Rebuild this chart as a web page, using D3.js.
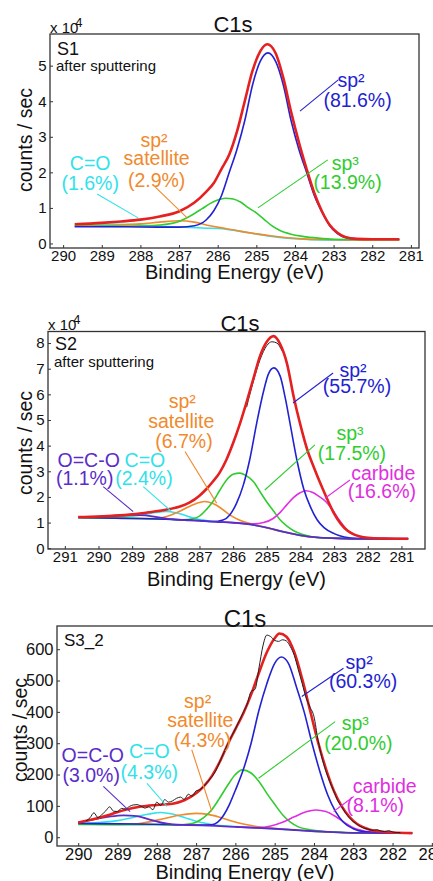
<!DOCTYPE html>
<html>
<head>
<meta charset="utf-8">
<script src="https://cdn.jsdelivr.net/npm/d3@7"></script>
<style>
  body { margin: 0; background: #fff; }
  svg text { font-family: "Liberation Sans", Arial, Helvetica, sans-serif; }
</style>
</head>
<body>
<svg id="chart" width="433" height="881"></svg>
<script>
// ---- S1 (counts x 1e4), pairs are [binding energy, counts] ----
const s1XTicks = [290, 289, 288, 287, 286, 285, 284, 283, 282, 281]
const s1YTicks = [0, 1, 2, 3, 4, 5]
const s1CO = [[289.7,0.52],[289.2,0.53],[288.7,0.54],[288.2,0.53],[287.7,0.5],[287.2,0.47],[286.7,0.45],[286.2,0.43],[285.7,0.39],[285.3,0.32],[285.0,0.27],[284.6,0.2],[284.2,0.15],[283.8,0.12],[283.3,0.1],[282.5,0.09],[281.3,0.09]]
const s1Sat = [[289.7,0.49],[289.0,0.5],[288.5,0.52],[288.0,0.55],[287.5,0.6],[287.0,0.64],[286.6,0.6],[286.2,0.5],[285.8,0.42],[285.4,0.34],[285.0,0.27],[284.6,0.21],[284.2,0.16],[283.8,0.13],[283.3,0.11],[282.5,0.1],[281.3,0.1]]
const s1Sp3 = [[289.7,0.49],[288.5,0.48],[288.0,0.49],[287.5,0.52],[287.0,0.62],[286.7,0.78],[286.4,0.98],[286.2,1.12],[286.0,1.22],[285.8,1.27],[285.6,1.25],[285.4,1.16],[285.2,1.0],[285.0,0.86],[284.8,0.68],[284.6,0.5],[284.4,0.37],[284.1,0.26],[283.8,0.2],[283.4,0.15],[283.0,0.12],[282.3,0.11],[281.3,0.11]]
const s1Sp2 = [[289.7,0.47],[288.5,0.47],[287.5,0.46],[287.0,0.46],[286.6,0.5],[286.3,0.66],[286.1,0.92],[285.9,1.35],[285.7,2.0],[285.5,2.65],[285.3,3.45],[285.1,4.45],[284.9,5.12],[284.7,5.36],[284.5,5.12],[284.3,4.45],[284.1,3.45],[283.9,2.65],[283.7,2.0],[283.5,1.35],[283.3,0.88],[283.1,0.5],[282.9,0.28],[282.7,0.17],[282.4,0.13],[282.0,0.12],[281.3,0.12]]
const s1Fit = [[289.7,0.54],[289.0,0.58],[288.5,0.62],[288.0,0.67],[287.5,0.76],[287.0,0.9],[286.6,1.15],[286.3,1.45],[286.1,1.7],[285.9,2.1],[285.7,2.5],[285.5,3.15],[285.3,4.0],[285.1,4.85],[284.9,5.4],[284.72,5.6],[284.5,5.35],[284.3,4.65],[284.1,3.7],[283.9,2.85],[283.7,2.1],[283.5,1.42],[283.3,0.9],[283.1,0.52],[282.9,0.3],[282.7,0.18],[282.4,0.13],[282.0,0.12],[281.3,0.12]]

// ---- S2 (counts x 1e4) ----
const s2XTicks = [291, 290, 289, 288, 287, 286, 285, 284, 283, 282, 281]
const s2YTicks = [0, 1, 2, 3, 4, 5, 6, 7, 8]
const s2OCO = [[290.6,1.21],[290.0,1.23],[289.5,1.27],[289.0,1.3],[288.6,1.28],[288.2,1.2],[287.8,1.13],[287.3,1.09],[287.0,1.07],[286.5,1.03],[286.0,1.0],[285.5,0.93],[285.0,0.8],[284.5,0.64],[284.0,0.5],[283.5,0.42],[283.0,0.39],[282.0,0.37],[280.8,0.37]]
const s2CO = [[290.6,1.2],[290.0,1.2],[289.5,1.21],[289.0,1.25],[288.6,1.32],[288.3,1.39],[288.0,1.43],[287.7,1.38],[287.4,1.27],[287.1,1.15],[286.8,1.08],[286.5,1.03],[286.0,1.0],[285.5,0.93],[285.0,0.8],[284.5,0.64],[284.0,0.5],[283.5,0.42],[283.0,0.39],[282.0,0.37],[280.8,0.37]]
const s2Sat = [[290.6,1.19],[289.5,1.17],[289.0,1.16],[288.5,1.16],[288.2,1.18],[287.9,1.27],[287.6,1.43],[287.3,1.63],[287.0,1.78],[286.85,1.82],[286.6,1.74],[286.35,1.55],[286.1,1.3],[285.85,1.12],[285.6,1.0],[285.3,0.9],[285.0,0.8],[284.5,0.64],[284.0,0.5],[283.5,0.42],[283.0,0.39],[282.0,0.37],[280.8,0.37]]
const s2Sp3 = [[290.6,1.19],[289.0,1.16],[288.0,1.13],[287.5,1.11],[287.2,1.15],[287.0,1.25],[286.8,1.5],[286.6,1.82],[286.4,2.25],[286.2,2.65],[286.0,2.88],[285.8,2.93],[285.6,2.82],[285.4,2.6],[285.2,2.2],[285.0,1.8],[284.8,1.45],[284.6,1.1],[284.4,0.86],[284.2,0.68],[284.0,0.56],[283.7,0.46],[283.4,0.41],[283.0,0.39],[282.0,0.37],[280.8,0.37]]
const s2Sp2 = [[290.6,1.2],[288.0,1.13],[287.0,1.08],[286.6,1.04],[286.3,1.1],[286.1,1.3],[285.9,1.75],[285.7,2.45],[285.5,3.5],[285.3,4.88],[285.1,6.1],[284.95,6.8],[284.79,7.03],[284.6,6.7],[284.45,5.85],[284.3,4.8],[284.1,3.4],[283.9,2.3],[283.7,1.6],[283.5,1.1],[283.3,0.8],[283.0,0.57],[282.7,0.44],[282.3,0.38],[280.8,0.37]]
const s2Carbide = [[286.5,1.03],[286.0,0.99],[285.7,0.96],[285.4,0.95],[285.1,1.0],[284.8,1.17],[284.6,1.4],[284.4,1.7],[284.2,1.98],[284.0,2.17],[283.85,2.24],[283.65,2.18],[283.45,2.02],[283.25,1.82],[283.05,1.5],[282.85,1.1],[282.65,0.76],[282.45,0.56],[282.2,0.45],[281.9,0.4],[281.5,0.38],[280.8,0.37]]
const s2Raw = [[285.6,5.5],[285.4,6.5],[285.2,7.35],[285.0,7.9],[284.85,8.05],[284.7,8.0],[284.55,7.7]]
const s2Fit = [[290.6,1.22],[290.0,1.24],[289.5,1.27],[289.0,1.32],[288.5,1.4],[288.0,1.5],[287.6,1.62],[287.3,1.78],[287.0,2.05],[286.8,2.3],[286.6,2.6],[286.4,2.95],[286.2,3.45],[286.0,4.1],[285.8,4.85],[285.6,5.7],[285.4,6.6],[285.2,7.5],[285.0,8.05],[284.8,8.27],[284.6,7.95],[284.4,7.2],[284.2,5.9],[284.0,4.8],[283.8,3.85],[283.6,3.15],[283.4,2.5],[283.2,1.9],[283.0,1.35],[282.8,0.95],[282.6,0.68],[282.4,0.53],[282.2,0.45],[281.9,0.4],[281.5,0.38],[280.8,0.37]]

// ---- S3_2 (counts) ----
const s3XTicks = [290, 289, 288, 287, 286, 285, 284, 283, 282, 281]
const s3YTicks = [0, 100, 200, 300, 400, 500, 600]
const s3OCO = [[290,47],[289.6,57],[289.2,66],[288.85,70],[288.5,67],[288.2,57],[287.9,47],[287.6,41],[287.2,39],[286.5,36],[286.0,33],[285.5,30],[285.0,27],[284.5,23],[284.0,19],[283.5,16],[283.0,14],[282.0,13],[281.5,13]]
const s3CO = [[290,45],[289.5,47],[289.0,53],[288.6,63],[288.2,74],[287.9,79],[287.6,74],[287.3,63],[287.0,51],[286.7,43],[286.4,37],[286.0,34],[285.5,30],[285.0,27],[284.5,23],[284.0,19],[283.5,16],[283.0,14],[282.0,13],[281.5,13]]
const s3Sat = [[290,42],[289.0,41],[288.5,43],[288.2,49],[287.8,60],[287.4,71],[287.0,76],[286.7,73],[286.4,64],[286.1,52],[285.8,42],[285.5,35],[285.0,28],[284.5,23],[284.0,19],[283.5,16],[283.0,14],[282.0,13],[281.5,13]]
const s3Sp3 = [[290,41],[288.5,40],[288.0,40],[287.5,39],[287.2,42],[287.0,48],[286.8,63],[286.6,88],[286.4,125],[286.2,165],[286.0,200],[285.83,215],[285.6,205],[285.4,178],[285.2,140],[285.0,105],[284.8,72],[284.6,48],[284.4,33],[284.1,24],[283.8,19],[283.4,16],[283.0,14],[282.0,13],[281.5,13]]
const s3Sp2 = [[290,44],[288.5,42],[287.5,40],[287.0,39],[286.6,40],[286.45,48],[286.3,70],[286.15,105],[286.0,150],[285.8,215],[285.6,300],[285.4,405],[285.2,490],[285.0,555],[284.83,575],[284.65,555],[284.45,481],[284.25,400],[284.05,300],[283.85,210],[283.65,135],[283.45,82],[283.25,48],[283.0,27],[282.7,17],[282.3,14],[281.5,13]]
const s3Carbide = [[286.0,33],[285.4,31],[285.1,36],[284.8,48],[284.5,65],[284.2,81],[283.95,87],[283.7,82],[283.45,66],[283.2,45],[283.0,30],[282.7,19],[282.4,15],[282.0,13],[281.5,13]]
const s3Raw = [[289.8,52],[289.7,62],[289.6,78],[289.5,63],[289.4,72],[289.3,84],[289.2,97],[289.1,83],[289.0,82],[288.9,92],[288.8,90],[288.7,98],[288.6,103],[288.5,104],[288.4,99],[288.3,93],[288.2,97],[288.1,88],[288.0,112],[287.9,101],[287.8,120],[287.7,112],[287.6,116],[287.5,124],[287.4,128],[287.3,121],[287.2,137],[287.1,131],[287.0,148],[286.9,152],[286.8,163],[286.7,178],[286.6,193],[286.5,212],[286.4,240],[286.3,268],[286.2,296],[286.1,322],[286.0,346],[285.9,372],[285.8,398],[285.7,425],[285.6,465],[285.5,472],[285.4,540],[285.3,610],[285.2,645],[285.1,640],[285.0,628],[284.9,625],[284.8,630],[284.7,626],[284.6,608],[284.5,580],[284.4,535],[284.3,490],[284.2,445],[284.1,415],[284.0,385],[283.9,312],[283.8,255],[283.7,212],[283.6,178],[283.5,148],[283.4,118],[283.3,98],[283.2,78],[283.1,62],[283.0,50],[282.9,41],[282.8,33],[282.7,28],[282.6,25],[282.5,22],[282.4,24],[282.3,20],[282.2,18],[282.1,21],[282.0,17],[281.9,15],[281.8,15]]
const s3Fit = [[290,47],[289.6,58],[289.2,72],[288.8,88],[288.4,98],[288.0,103],[287.6,107],[287.3,118],[287.0,140],[286.8,163],[286.6,195],[286.4,240],[286.2,295],[286.0,345],[285.8,395],[285.6,455],[285.4,525],[285.2,590],[285.0,635],[284.88,650],[284.7,640],[284.5,590],[284.3,505],[284.1,405],[283.9,305],[283.7,220],[283.5,150],[283.3,100],[283.1,65],[282.9,42],[282.6,25],[282.3,18],[282.0,15],[281.5,13]]

const C = {
  red: '#e42020', blue: '#2222d2', green: '#30cc30', orange: '#f08a2c',
  cyan: '#30e2ea', magenta: '#e02ee0', indigo: '#5a2cc8', black: '#222'
}

const svg = d3.select('#chart')

const panels = [
  {
    id: 1, left: 50, right: 419, top: 34, bottom: 248,
    xDomain: [290.34, 280.79], yDomain: [-0.127, 5.89],
    xTicks: s1XTicks, yTicks: s1YTicks, tickFont: 15,
    title: 'C1s', titleX: 233, titleY: 32, titleFont: 22,
    exp: true, expY: 33,
    sample: 'S1', sampleY: 55, sampleFont: 18, note: 'after sputtering', noteY: 71,
    yLabelX: 25, yLabelY: 140, xLabelY: 279,
    series: [
      { data: s1CO, color: C.cyan, w: 1.6 },
      { data: s1Sat, color: C.orange, w: 1.6 },
      { data: s1Sp3, color: C.green, w: 1.6 },
      { data: s1Sp2, color: C.blue, w: 1.6 },
      { data: s1Fit, color: C.red, w: 2.6 }
    ],
    notes: [
      { color: C.blue, ptr: [[283.87,3.72],[282.88,4.6]], lines: [['sp²',282.55,4.6],['(81.6%)',282.38,4.04]] },
      { color: C.green, ptr: [[284.96,1.0],[283.15,2.35]], lines: [['sp³',282.7,2.26],['(13.9%)',282.64,1.73]] },
      { color: C.orange, ptr: [[287.62,1.59],[286.79,0.72]], lines: [['sp²',287.65,2.91],['satellite',287.58,2.4],['(2.9%)',287.58,1.79]] },
      { color: C.cyan, ptr: [[289.12,1.39],[288.06,0.72]], lines: [['C=O',289.3,2.26],['(1.6%)',289.3,1.7]] }
    ]
  },
  {
    id: 2, left: 48, right: 425, top: 331.5, bottom: 549,
    xDomain: [291.5, 280.3], yDomain: [-0.03, 8.45],
    xTicks: s2XTicks, yTicks: s2YTicks, tickFont: 15,
    title: 'C1s', titleX: 240, titleY: 331, titleFont: 22,
    exp: true, expY: 330,
    sample: 'S2', sampleY: 350, sampleFont: 18, note: 'after sputtering', noteY: 367,
    yLabelX: 25, yLabelY: 443, xLabelY: 586,
    series: [
      { data: s2CO, color: C.cyan, w: 1.6 },
      { data: s2Sat, color: C.orange, w: 1.6 },
      { data: s2Sp3, color: C.green, w: 1.6 },
      { data: s2Carbide, color: C.magenta, w: 1.6 },
      { data: s2Sp2, color: C.blue, w: 1.6 },
      { data: s2OCO, color: C.indigo, w: 1.8 },
      { data: s2Raw, color: C.black, w: 1 },
      { data: s2Fit, color: C.red, w: 2.6 }
    ],
    notes: [
      { color: C.blue, ptr: [[284.22,5.66],[283.03,6.83]], lines: [['sp²',282.44,6.96],['(55.7%)',282.32,6.31]] },
      { color: C.green, ptr: [[285.06,2.27],[283.57,4.03]], lines: [['sp³',282.53,4.49],['(17.5%)',282.47,3.71]] },
      { color: C.magenta, ptr: [[283.27,1.95],[282.53,2.66]], lines: [['carbide',281.54,2.93],['(16.6%)',281.58,2.21]] },
      { color: C.orange, ptr: [[287.43,3.77],[286.49,1.76]], lines: [['sp²',287.51,5.72],['satellite',287.54,4.94],['(6.7%)',287.46,4.16]] },
      { color: C.cyan, ptr: [[288.67,2.4],[287.83,1.43]], lines: [['C=O',288.62,3.45],['(2.4%)',288.65,2.73]] },
      { color: C.indigo, ptr: [[289.86,2.4],[288.97,1.43]], lines: [['O=C-O',290.29,3.45],['(1.1%)',290.41,2.73]] }
    ]
  },
  {
    id: 3, left: 57, right: 446, top: 626, bottom: 846,
    xDomain: [290.54, 280.64], yDomain: [-28, 674],
    xTicks: s3XTicks, yTicks: s3YTicks, tickFont: 16.5,
    title: 'C1s', titleX: 245, titleY: 627, titleFont: 24,
    exp: false,
    sample: 'S3_2', sampleY: 646, sampleFont: 17,
    yLabelX: 20, yLabelY: 730, xLabelY: 879,
    series: [
      { data: s3CO, color: C.cyan, w: 1.6 },
      { data: s3Sat, color: C.orange, w: 1.6 },
      { data: s3Sp3, color: C.green, w: 1.6 },
      { data: s3Carbide, color: C.magenta, w: 1.6 },
      { data: s3Sp2, color: C.blue, w: 1.6 },
      { data: s3OCO, color: C.indigo, w: 1.8 },
      { data: s3Fit, color: C.red, w: 2.6 },
      { data: s3Raw, color: C.black, w: 1 }
    ],
    notes: [
      { color: C.blue, ptr: [[284.31,449],[283.25,539]], lines: [['sp²',282.85,560],['(60.3%)',282.75,497]] },
      { color: C.green, ptr: [[285.41,188],[283.46,369]], lines: [['sp³',282.95,364],['(20.0%)',282.87,300]] },
      { color: C.magenta, ptr: [[283.5,82],[282.99,130]], lines: [['carbide',282.2,162],['(8.1%)',282.44,103]] },
      { color: C.orange, ptr: [[287.11,279],[286.6,82]], lines: [['sp²',286.96,433],['satellite',286.89,374],['(4.3%)',286.84,311]] },
      { color: C.cyan, ptr: [[288.25,172],[287.74,98]], lines: [['C=O',288.19,273],['(4.3%)',288.19,209]] },
      { color: C.indigo, ptr: [[289.36,162],[288.68,82]], lines: [['O=C-O',289.63,263],['(3.0%)',289.67,199]] }
    ]
  }
]

function drawPanel(p) {
  const x = d3.scaleLinear().domain(p.xDomain).range([p.left, p.right])
  const y = d3.scaleLinear().domain(p.yDomain).range([p.bottom, p.top])
  const g = svg.append('g')

  // clip so curves stay inside the frame
  svg.append('clipPath').attr('id', 'clip' + p.id).append('rect')
    .attr('x', p.left).attr('y', p.top)
    .attr('width', p.right - p.left).attr('height', p.bottom - p.top)

  const line = d3.line().x(d => x(d[0])).y(d => y(d[1])).curve(d3.curveMonotoneX)

  const curves = g.append('g').attr('clip-path', `url(#clip${p.id})`)
  p.series.forEach(s => {
    curves.append('path').datum(s.data)
      .attr('d', line)
      .attr('fill', 'none')
      .attr('stroke', s.color)
      .attr('stroke-width', s.w)
      .attr('stroke-linejoin', 'round')
  })

  // axes with inward ticks
  const xAxis = g.append('g').attr('transform', `translate(0,${p.bottom})`)
    .call(d3.axisBottom(x).tickValues(p.xTicks).tickFormat(d3.format('d'))
      .tickSizeInner(-3).tickSizeOuter(0).tickPadding(2.5))
  const yAxis = g.append('g').attr('transform', `translate(${p.left},0)`)
    .call(d3.axisLeft(y).tickValues(p.yTicks).tickFormat(d3.format('d'))
      .tickSizeInner(-3).tickSizeOuter(0).tickPadding(3.5))
  ;[xAxis, yAxis].forEach(a => {
    a.select('.domain').remove()
    a.selectAll('line').attr('stroke', '#333')
    a.selectAll('text').attr('font-size', p.tickFont).attr('fill', '#111')
  })

  // frame
  g.append('rect')
    .attr('x', p.left).attr('y', p.top)
    .attr('width', p.right - p.left).attr('height', p.bottom - p.top)
    .attr('fill', 'none').attr('stroke', '#333').attr('stroke-width', 1.3)

  // annotations
  p.notes.forEach(n => {
    g.append('line')
      .attr('x1', x(n.ptr[0][0])).attr('y1', y(n.ptr[0][1]))
      .attr('x2', x(n.ptr[1][0])).attr('y2', y(n.ptr[1][1]))
      .attr('stroke', n.color).attr('stroke-width', 1.1)
    n.lines.forEach(l => {
      g.append('text')
        .attr('x', x(l[1])).attr('y', y(l[2]) + 19.5 * 0.35)
        .attr('text-anchor', 'middle')
        .attr('font-size', 19.5)
        .attr('fill', n.color)
        .text(l[0])
    })
  })

  // title and labels
  g.append('text').attr('x', p.titleX).attr('y', p.titleY)
    .attr('text-anchor', 'middle').attr('font-size', p.titleFont).attr('fill', '#111')
    .text(p.title)

  if (p.exp) {
    const t = g.append('text').attr('x', p.left).attr('y', p.expY)
      .attr('font-size', 15).attr('fill', '#111')
    t.append('tspan').text('x 10')
    t.append('tspan').attr('dx', -3).attr('dy', -6).attr('font-size', 13).text('4')
  }

  g.append('text').attr('x', p.left + 7).attr('y', p.sampleY)
    .attr('font-size', p.sampleFont).attr('fill', '#111').text(p.sample)
  if (p.note) {
    g.append('text').attr('x', p.left + 6).attr('y', p.noteY)
      .attr('font-size', 15).attr('fill', '#111').text(p.note)
  }

  g.append('text')
    .attr('transform', `translate(${p.yLabelX},${p.yLabelY}) rotate(-90)`)
    .attr('text-anchor', 'middle').attr('dy', '0.35em')
    .attr('font-size', 19.5).attr('fill', '#111')
    .text('counts / sec')

  g.append('text')
    .attr('x', (p.left + Math.min(p.right, 433)) / 2).attr('y', p.xLabelY)
    .attr('text-anchor', 'middle')
    .attr('font-size', 20).attr('fill', '#111')
    .text('Binding Energy (eV)')
}

panels.forEach(drawPanel)
</script>
</body>
</html>
